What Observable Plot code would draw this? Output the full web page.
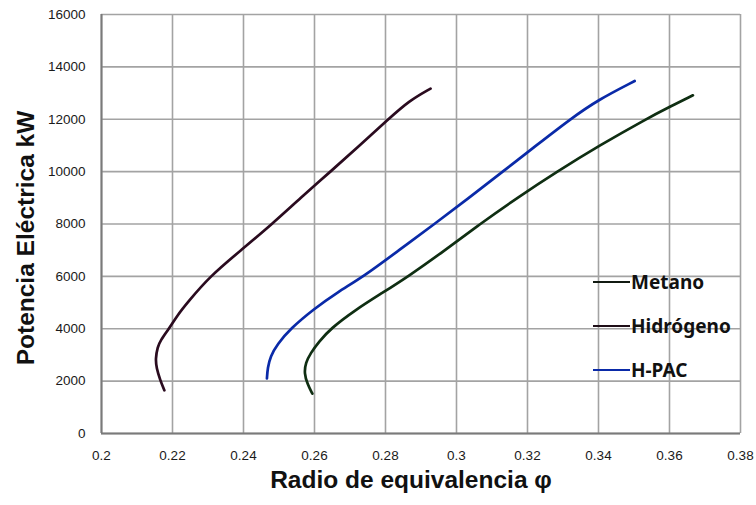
<!DOCTYPE html>
<html>
<head>
<meta charset="utf-8">
<script src="https://cdn.jsdelivr.net/npm/d3@7"></script>
<script src="https://cdn.jsdelivr.net/npm/@observablehq/plot@0.6"></script>
<style>
  html, body { margin: 0; padding: 0; background: #fff; }
  #chart { position: relative; width: 756px; height: 505px; }
</style>
</head>
<body>
<div id="chart"></div>
<script>
// ---- Data ----
const seriesNames = ["Metano", "Hidrógeno", "H-PAC"];
const seriesColors = ["#0f2e12", "#2a0b1f", "#0a2aa8"];

const metanoPhi = [0.2594, 0.2580, 0.2571, 0.2575, 0.2589, 0.2612, 0.2645, 0.2713, 0.2790, 0.2864, 0.2963, 0.3066, 0.3171, 0.3283, 0.3403, 0.3533, 0.3600, 0.3666];
const metanoKW  = [1520,   1900,   2300,   2700,   3070,   3500,   4000,   4700,   5360,   6000,   6950,   8000,   9000,   10000,  11000,  12000,  12470,  12914];

const hidrogenoPhi = [0.2177, 0.2165, 0.2155, 0.2152, 0.2158, 0.2166, 0.2190, 0.2213, 0.2242, 0.2305, 0.2393, 0.2481, 0.2561, 0.2645, 0.2727, 0.2808, 0.2866, 0.2927];
const hidrogenoKW  = [1650,   2050,   2500,   2850,   3300,   3550,   4000,   4500,   5000,   6000,   7000,   8000,   9000,   10000,  11000,  12000,  12700,  13170];

const hpacPhi = [0.2466, 0.2468, 0.2476, 0.2495, 0.2532, 0.2598, 0.2665, 0.2739, 0.2838, 0.2938, 0.3035, 0.3130, 0.3225, 0.3320, 0.3400, 0.3502];
const hpacKW  = [2100,   2500,   2950,   3400,   4000,   4750,   5400,   6000,   7000,   8000,   9000,   10000,  11000,  12000,  12750,  13460];

const xTicks = [0.2, 0.22, 0.24, 0.26, 0.28, 0.3, 0.32, 0.34, 0.36, 0.38];
const yTicks = [0, 2000, 4000, 6000, 8000, 10000, 12000, 14000, 16000];
const xTitle = "Radio de equivalencia φ";
const yTitle = "Potencia Eléctrica kW";

// ---- Build table ----
const phiArrays = [metanoPhi, hidrogenoPhi, hpacPhi];
const kwArrays = [metanoKW, hidrogenoKW, hpacKW];
const rows = [];
seriesNames.forEach((name, s) => {
  phiArrays[s].forEach((phi, i) => rows.push({serie: name, phi, kw: kwArrays[s][i], idx: i}));
});

const W = 756, H = 505;
const mL = 101, mR = 16, mT = 14, mB = 72;
const titleFont = "'Liberation Sans', Arial, sans-serif";

const chart = Plot.plot({
  width: W,
  height: H,
  marginLeft: mL,
  marginRight: mR,
  marginTop: mT,
  marginBottom: mB,
  style: {fontFamily: "'Liberation Sans', Arial, sans-serif", background: "#fff", color: "#111"},
  x: {domain: [0.2, 0.38], ticks: xTicks, tickFormat: d => String(+d.toFixed(2))},
  y: {domain: [0, 16000], ticks: yTicks, tickFormat: d => String(d)},
  color: {domain: seriesNames, range: seriesColors},
  marks: [
    Plot.gridX(xTicks, {stroke: "#a3a3a3", strokeOpacity: 1, strokeWidth: 1.6}),
    Plot.gridY(yTicks, {stroke: "#a3a3a3", strokeOpacity: 1, strokeWidth: 1.6}),
    Plot.ruleX([0.2], {stroke: "#7a7a7a", strokeWidth: 2}),
    Plot.ruleY([0], {stroke: "#7a7a7a", strokeWidth: 2}),
    Plot.axisX(xTicks, {tickSize: 0, tickPadding: 17, fontSize: 13.5, label: null, fill: "#1a1a1a", tickFormat: d => String(+d.toFixed(2))}),
    Plot.axisY(yTicks, {tickSize: 0, tickPadding: 16, fontSize: 13.5, label: null, fill: "#1a1a1a", tickFormat: d => String(d)}),
    Plot.line(rows, {x: "phi", y: "kw", z: "serie", stroke: "serie", strokeWidth: 2.7, curve: "basis", sort: null}),
    Plot.text([xTitle], {frameAnchor: "bottom", dx: -10, dy: 54, fontSize: 24.5, fontWeight: "bold", fontFamily: titleFont, fill: "#111"}),
    Plot.text([yTitle], {frameAnchor: "left", textAnchor: "middle", rotate: -90, dx: -75, dy: 14, fontSize: 24.5, fontWeight: "bold", fontFamily: titleFont, fill: "#111"})
  ]
});

document.getElementById("chart").appendChild(chart);

// ---- Legend (drawn into the plot's SVG from the series arrays) ----
const svg = d3.select(chart);
const legendY0 = 282, legendStep = 44;
const leg = svg.append("g").attr("class", "legend").attr("text-anchor", "start");
const legendColors = ["#111a11", "#1e0d17", "#0a2aa8"];
seriesNames.forEach((name, i) => {
  const y = legendY0 + i * legendStep;
  leg.append("line")
    .attr("x1", 593).attr("x2", 630).attr("y1", y).attr("y2", y)
    .attr("stroke", legendColors[i]).attr("stroke-width", 2.2);
  leg.append("text")
    .attr("x", 631).attr("y", y).attr("dy", "0.36em")
    .attr("text-anchor", "start")
    .attr("font-family", "'Noto Sans', sans-serif")
    .attr("font-weight", "bold").attr("font-size", 19)
    .attr("fill", "#111")
    .text(name);
});
</script>
</body>
</html>
